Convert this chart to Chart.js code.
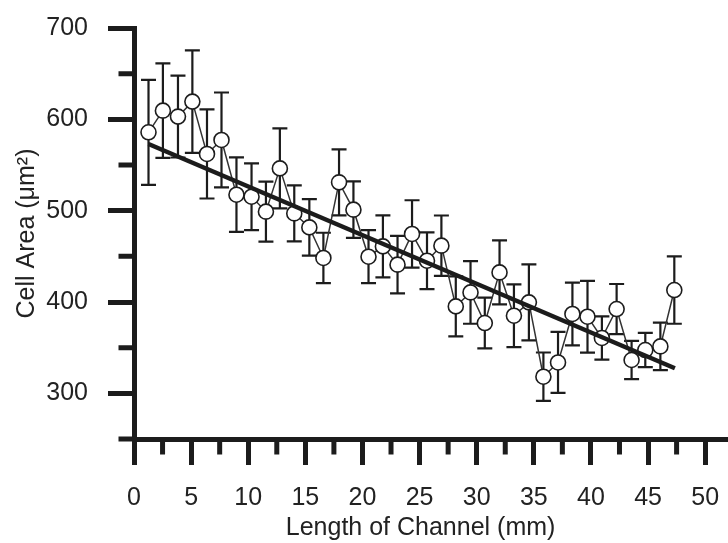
<!DOCTYPE html>
<html>
<head>
<meta charset="utf-8">
<script src="https://cdn.jsdelivr.net/npm/chart.js@4/dist/chart.umd.min.js"></script>
<style>
html,body{margin:0;padding:0;background:#fff;}
#wrap{width:728px;height:543px;position:relative;}
</style>
</head>
<body>
<div id="wrap"><canvas id="c" width="728" height="543"></canvas></div>
<script>
// ---- data ----
const channelLength = [1.27, 2.53, 3.85, 5.11, 6.39, 7.66, 8.97, 10.29, 11.55, 12.77, 14.03, 15.35, 16.58,
  17.95, 19.21, 20.53, 21.79, 23.07, 24.34, 25.65, 26.91, 28.17, 29.46, 30.71, 32.0, 33.26, 34.57,
  35.84, 37.12, 38.38, 39.70, 40.96, 42.25, 43.56, 44.76, 46.08, 47.30];
const cellArea = [585.8, 609.5, 603.0, 619.4, 562.1, 577.4, 517.5, 515.3, 498.9, 546.3, 497.0, 481.7, 448.2,
  531.0, 501.1, 449.6, 460.9, 440.9, 474.5, 445.2, 461.7, 395.2, 410.5, 377.0, 432.4, 385.0, 399.6,
  318.2, 333.8, 386.9, 383.9, 360.6, 392.3, 336.5, 347.4, 351.4, 413.1];
const cellAreaErr = [57.5, 51.8, 44.8, 56.2, 48.8, 52.0, 40.8, 36.5, 32.9, 43.8, 30.7, 31.0, 27.6,
  36.2, 30.9, 29.0, 34.0, 31.5, 36.9, 31.0, 33.0, 32.9, 34.3, 27.7, 35.0, 34.4, 41.7,
  26.5, 33.4, 34.3, 39.3, 23.7, 27.4, 21.0, 18.8, 26.0, 36.9];
const fitX = [1.27, 47.35];
const fitY = [573.0, 327.5];
const xMajorTicks = [0, 5, 10, 15, 20, 25, 30, 35, 40, 45, 50];
const xMinorTicks = [2.5, 7.5, 12.5, 17.5, 22.5, 27.5, 32.5, 37.5, 42.5, 47.5];
const yMajorTicks = [300, 400, 500, 600, 700];
const yMinorTicks = [250, 350, 450, 550, 650];

const INK = '#1c1c1c';
const TXT = '#222222';
const FONT = "Arial, 'Liberation Sans', sans-serif";

// stretch the x axis to the right edge of the canvas, as in the reference
const fullWidthX = {
  id: 'fullWidthX',
  afterLayout(chart) {
    const x = chart.scales.x;
    const a = chart.chartArea;
    a.right = chart.width;
    a.width = a.right - a.left;
    x.right = chart.width;
    x.width = x.right - x.left;
    x.configure();
  }
};

const errorBars = {
  id: 'errorBars',
  beforeDatasetsDraw(chart) {
    const {ctx, scales: {x, y}} = chart;
    ctx.save();
    ctx.strokeStyle = INK;
    ctx.lineWidth = 2.2;
    channelLength.forEach((cx, i) => {
      const px = x.getPixelForValue(cx);
      const top = y.getPixelForValue(cellArea[i] + cellAreaErr[i]);
      const bot = y.getPixelForValue(cellArea[i] - cellAreaErr[i]);
      ctx.beginPath();
      ctx.moveTo(px, top); ctx.lineTo(px, bot);
      ctx.moveTo(px - 7.5, top); ctx.lineTo(px + 7.5, top);
      ctx.moveTo(px - 7.5, bot); ctx.lineTo(px + 7.5, bot);
      ctx.stroke();
    });
    ctx.restore();
  }
};

const minorTicks = {
  id: 'minorTicks',
  afterDraw(chart) {
    const {ctx, chartArea, scales: {x, y}} = chart;
    ctx.save();
    ctx.strokeStyle = INK;
    ctx.lineWidth = 5;
    ctx.beginPath();
    xMinorTicks.forEach(v => {
      const px = x.getPixelForValue(v);
      ctx.moveTo(px, chartArea.bottom);
      ctx.lineTo(px, chartArea.bottom + 15.5);
    });
    yMinorTicks.forEach(v => {
      const py = y.getPixelForValue(v);
      ctx.moveTo(chartArea.left, py);
      ctx.lineTo(chartArea.left - 15.5, py);
    });
    ctx.stroke();
    ctx.restore();
  }
};

function zeroPad(s) { s.paddingTop = 0; s.paddingBottom = 0; s.paddingLeft = 0; s.paddingRight = 0; }

new Chart(document.getElementById('c'), {
  type: 'scatter',
  data: {
    datasets: [
      { label: 'Linear fit', data: fitX.map((v, i) => ({x: v, y: fitY[i]})), showLine: true,
        borderColor: INK, borderWidth: 4.5, pointRadius: 0, order: 0 },
      { label: 'Cell Area', data: channelLength.map((v, i) => ({x: v, y: cellArea[i]})), showLine: true,
        borderColor: '#333333', borderWidth: 1.5, pointRadius: 7.5, pointBackgroundColor: '#ffffff',
        pointBorderColor: INK, pointBorderWidth: 1.6, order: 1 }
    ]
  },
  options: {
    responsive: false,
    devicePixelRatio: 1,
    animation: false,
    layout: {padding: {top: 28, right: 0, bottom: 0, left: 0}},
    plugins: {legend: {display: false}, tooltip: {enabled: false}},
    scales: {
      x: {
        type: 'linear', position: 'bottom', min: 0, max: 52,
        afterBuildTicks: s => { s.ticks = xMajorTicks.map(v => ({value: v})); },
        afterFit: s => { s.height = 104; zeroPad(s); },
        ticks: {font: {family: FONT, size: 25}, color: TXT, padding: 18, maxRotation: 0, autoSkip: false},
        grid: {drawOnChartArea: false, drawTicks: true, tickLength: 26, tickWidth: 5, tickColor: INK},
        border: {display: true, width: 5, color: INK},
        title: {display: true, text: 'Length of Channel (mm)   ', font: {family: FONT, size: 25}, color: TXT, padding: {top: 0, bottom: 0}}
      },
      y: {
        type: 'linear', position: 'left', min: 250, max: 700,
        afterBuildTicks: s => { s.ticks = yMajorTicks.map(v => ({value: v})); },
        afterFit: s => { s.width = 134; zeroPad(s); },
        ticks: {font: {family: FONT, size: 25}, color: TXT, padding: 20, autoSkip: false},
        grid: {drawOnChartArea: false, drawTicks: true, tickLength: 26, tickWidth: 5, tickColor: INK},
        border: {display: true, width: 5, color: INK},
        title: {display: true, text: 'Cell Area (μm²)', font: {family: FONT, size: 25}, color: TXT, padding: {top: 12, bottom: 0}}
      }
    }
  },
  plugins: [fullWidthX, errorBars, minorTicks]
});
</script>
</body>
</html>
